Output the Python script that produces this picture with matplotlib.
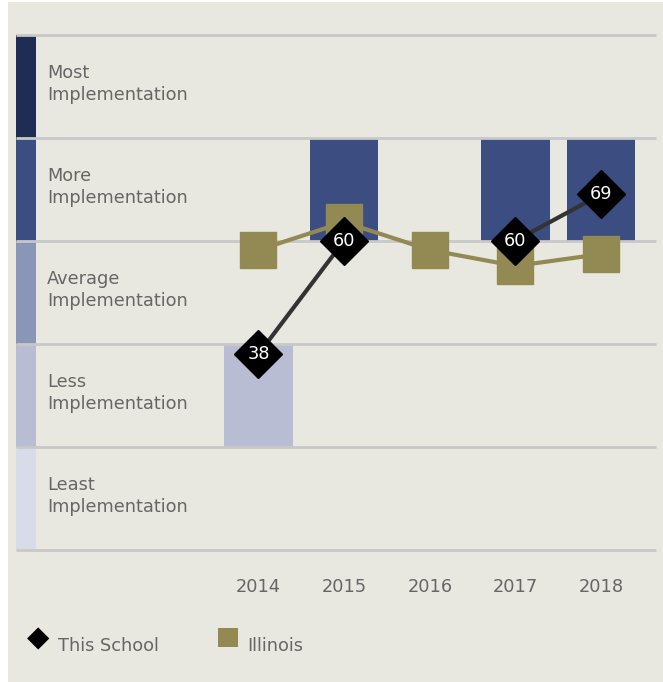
import matplotlib
matplotlib.use("Agg")
import matplotlib.pyplot as plt
from matplotlib.patches import Rectangle
import numpy as np

years = ["2014", "2015", "2016", "2017", "2018"]
school = [38, 60, None, 60, 69]
illinois = [58.2, 63.6, 58.2, 55.1, 57.4]

band_edges = [0, 20, 40, 60, 80, 100]
band_names = ["Least\nImplementation", "Less\nImplementation", "Average\nImplementation",
              "More\nImplementation", "Most\nImplementation"]
band_colors = ["#d8dce8", "#b8bdd3", "#8a96b8", "#3c4d82", "#1f2d55"]

W, H = 663, 682
bg = "#e9e8e0"
txt = "#666666"
fs = 12.8

fig = plt.figure(figsize=(W / 100, H / 100), dpi=100, facecolor="white")
fig.patches.append(Rectangle((8 / W, 0), 1 - 8 / W, 1 - 2 / H, transform=fig.transFigure,
                             facecolor=bg, edgecolor="none", zorder=-10))


def px(x, y):
    return x / W, 1 - y / H


ax_l, ax_r, ax_t, ax_b = 16, 656, 34.5, 550
ax = fig.add_axes([ax_l / W, 1 - ax_b / H, (ax_r - ax_l) / W, (ax_b - ax_t) / H])
ax.set_facecolor("none")
for s in ax.spines.values():
    s.set_visible(False)
ax.set_ylim(0, 100)
ax.set_xlim(-2.83, 4.64)
ax.set_yticks([])
ax.set_xticks(range(len(years)))
ax.set_xticklabels(years, color=txt, fontsize=fs)
ax.tick_params(axis="x", length=0, pad=20)

for y in band_edges:
    ax.axhline(y, color="#c8c8c8", lw=2, zorder=3.5, clip_on=False, solid_capstyle="butt")

# band color strips and labels on the left
strip_w = (36 - 16) / (ax_r - ax_l) * (4.64 + 2.83)
for i, name in enumerate(band_names):
    lo, hi = band_edges[i], band_edges[i + 1]
    ax.add_patch(Rectangle((-2.83, lo), strip_w, hi - lo,
                           facecolor=band_colors[i], edgecolor="none", zorder=2))
    ax.text(-2.83 + strip_w * 1.55, (lo + hi) / 2 + 0.4, name, color=txt, fontsize=fs,
            va="center", ha="left", linespacing=1.3)

# bars showing the band of the school's score
for i, v in enumerate(school):
    if v is None:
        continue
    k = min(int(v // 20), 4)
    lo, hi = band_edges[k], band_edges[k + 1]
    ax.bar(i, hi - lo, bottom=lo, width=0.8, color=band_colors[k], zorder=3)

xs = np.arange(len(years))
ax.plot(xs, illinois, color="#928a52", lw=3, marker="s", ms=26, zorder=4)

sx = [i for i, v in enumerate(school) if v is not None]
sy = [v for v in school if v is not None]
ax.plot(sx[:2], sy[:2], color="#333333", lw=3, zorder=5)
ax.plot(sx[2:], sy[2:], color="#333333", lw=3, zorder=5)
ax.plot(sx, sy, ls="none", marker="D", ms=24, color="black", zorder=6)
for x, y in zip(sx, sy):
    ax.text(x, y, str(y), color="white", fontsize=fs, ha="center", va="center", zorder=7)

# legend
fig.text(*px(38, 638), "\u25c6", color="black", fontsize=21, ha="center", va="center")
fig.text(*px(58, 646), "This School", color=txt, fontsize=fs, ha="left", va="center")
fig.patches.append(Rectangle(px(218, 647), 20 / W, 19 / H, transform=fig.transFigure,
                             facecolor="#928a52", edgecolor="none"))
fig.text(*px(247, 646), "Illinois", color=txt, fontsize=fs, ha="left", va="center")

fig.savefig("out.png", dpi=100, facecolor="white")
